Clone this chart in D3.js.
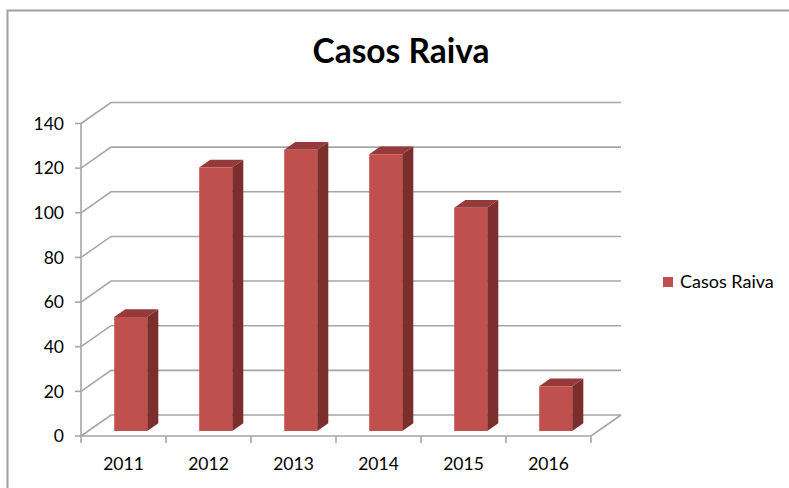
<!DOCTYPE html>
<html><head><meta charset="utf-8">
<script src="https://cdn.jsdelivr.net/npm/d3@7"></script>
<style>html,body{margin:0;padding:0;background:#fff;}svg{display:block;}</style>
</head><body>
<svg id="chart" width="789" height="488"></svg>
<script>
const categories = ["2011","2012","2013","2014","2015","2016"];
const seriesName = "Casos Raiva";
const values = [51, 118, 126, 124, 100, 20];
const yTicks = [0,20,40,60,80,100,120,140];

const svg = d3.select("#chart");
const font = "Lato, 'Open Sans', sans-serif";
const DX = 30, DY = -21;          // depth offset
const F0 = 0.24, F1 = 0.61;       // bar depth fractions

const x = d3.scaleBand().domain(categories).range([81, 591]).paddingInner(0).paddingOuter(0);
const y = d3.scaleLinear().domain([0, 140]).range([436, 123.5]);
const proj = (px, v, f) => [px + f*DX, y(v) + f*DY];

// outer border
svg.append("path").attr("d", "M7.5,488 V10.5 H789").attr("fill","none").attr("stroke","#a0a0a0").attr("stroke-width",2);

// title
svg.append("text").attr("x", 401).attr("y", 63).attr("text-anchor","middle")
  .attr("font-family", font).attr("font-weight","bold").attr("font-size", 33.5).attr("fill","#000").text(seriesName);

const grid = svg.append("g").attr("stroke","#a6a6a6").attr("stroke-width",1.6).attr("fill","none");
const x0 = x.range()[0], x1 = x.range()[1];
yTicks.forEach(t => {
  const a = proj(x0, t, 0), b = proj(x0, t, 1), c = proj(x1, t, 1);
  grid.append("path").attr("d", `M${a[0]},${a[1]} L${b[0]},${b[1]} L${c[0]},${c[1]}`);
});
// floor
{
  const a = proj(x0,0,0), b = proj(x1,0,0), c = proj(x1,0,1);
  grid.append("path").attr("d", `M${a[0]},${a[1]} L${b[0]},${b[1]} L${c[0]},${c[1]}`);
}
// vertical axis
grid.append("line").attr("x1",x0).attr("x2",x0).attr("y1",y(140)).attr("y2",y(0));
// y ticks
yTicks.forEach(t => grid.append("line").attr("x1",x0-6).attr("x2",x0).attr("y1",y(t)).attr("y2",y(t)));
// x ticks
const bounds = categories.map(c => x(c)).concat([x1]);
bounds.forEach(b => grid.append("line").attr("x1",b).attr("x2",b).attr("y1",y(0)).attr("y2",y(0)+7));

// y labels
svg.append("g").selectAll("text").data(yTicks).join("text")
  .attr("x", 64).attr("y", d => y(d)).attr("dy","0.36em").attr("text-anchor","end")
  .attr("font-family", font).attr("font-size", 17.5).attr("fill","#000").text(d => d);
// x labels
svg.append("g").selectAll("text").data(categories).join("text")
  .attr("x", d => x(d) + x.bandwidth()/2).attr("y", 470).attr("text-anchor","middle")
  .attr("font-family", font).attr("font-size", 17.5).attr("fill","#000").text(d => d);

// bars
const bw = 33;
const bars = svg.append("g");
categories.forEach((c, i) => {
  const v = values[i];
  const l = x(c) + (x.bandwidth() - bw)/2, r = l + bw;
  const p = (px, vv, f) => proj(px, vv, f).join(",");
  // side
  bars.append("path").attr("fill","#7b2e2c")
    .attr("d", `M${p(r,0,F0)} L${p(r,0,F1)} L${p(r,v,F1)} L${p(r,v,F0)} Z`);
  // top
  bars.append("path").attr("fill","#96393a")
    .attr("d", `M${p(l,v,F0)} L${p(r,v,F0)} L${p(r,v,F1)} L${p(l,v,F1)} Z`);
  // front
  bars.append("path").attr("fill","#c0504d")
    .attr("d", `M${p(l,0,F0)} L${p(r,0,F0)} L${p(r,v,F0)} L${p(l,v,F0)} Z`);
});

// legend
svg.append("rect").attr("x",663).attr("y",277).attr("width",10).attr("height",10).attr("fill","#c0504d");
svg.append("text").attr("x",680).attr("y",282).attr("dy","0.36em")
  .attr("font-family", font).attr("font-size", 18).attr("fill","#000").text(seriesName);
</script>
</body></html>
